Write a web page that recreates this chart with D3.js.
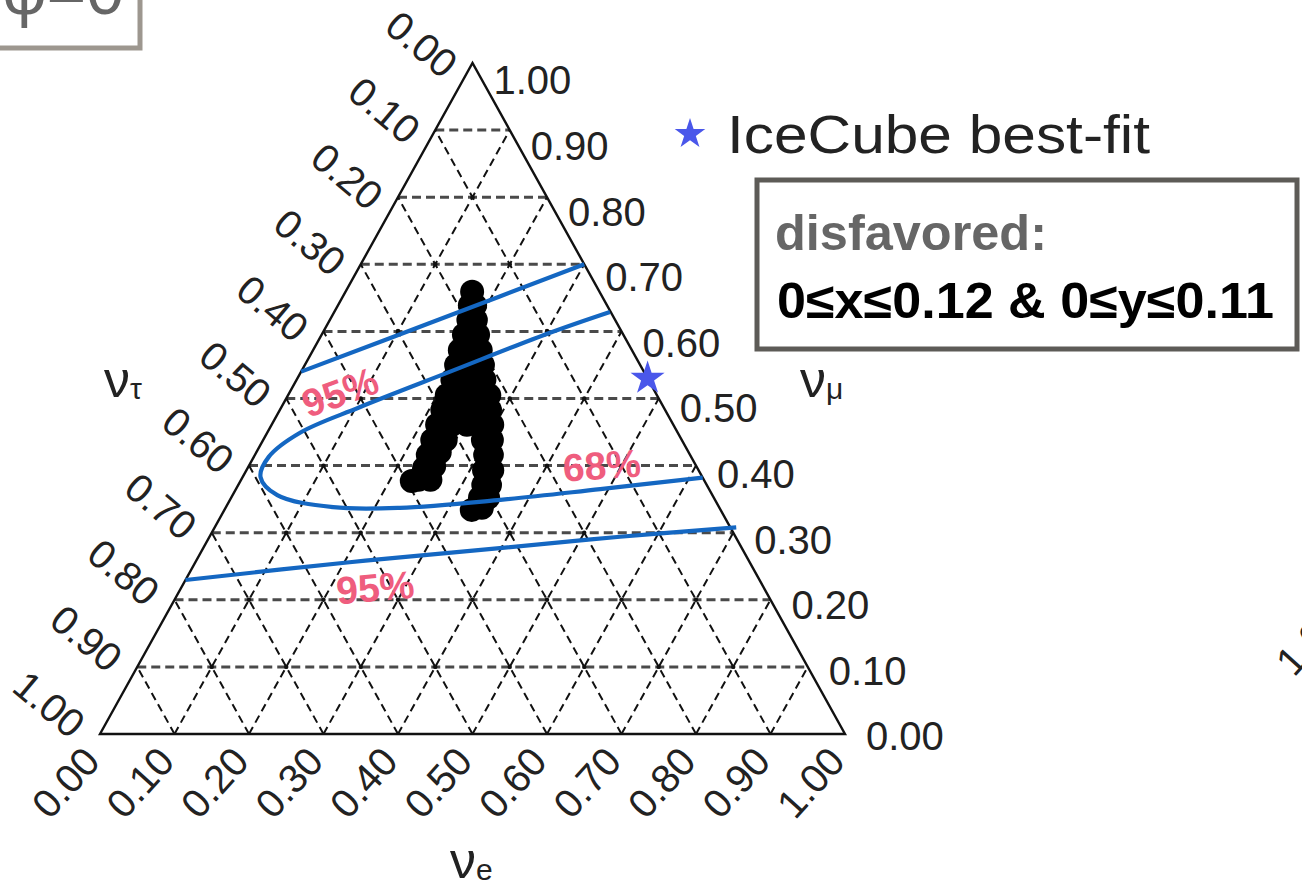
<!DOCTYPE html>
<html>
<head>
<meta charset="utf-8">
<script src="https://cdn.jsdelivr.net/npm/d3@7"></script>
<style>
  body { margin: 0; background: #fff; }
  svg { display: block; }
  text { font-family: "Liberation Sans", Arial, sans-serif; }
</style>
</head>
<body>
<script>
// ternary coordinates are [nu_e fraction, nu_mu fraction]; nu_tau = 1 - both
var svgWidth = 1302;
var svgHeight = 888;

var tickValues = [0, 0.1, 0.2, 0.3, 0.4, 0.5, 0.6, 0.7, 0.8, 0.9, 1.0];
var tickLabels = ["0.00", "0.10", "0.20", "0.30", "0.40", "0.50", "0.60", "0.70", "0.80", "0.90", "1.00"];

// 95% contour, upper line
var contour95Upper = [[0.0, 0.54], [0.147, 0.618], [0.30, 0.70]];
// 68% contour (the bent curve)
var contour68 = [[0.370, 0.629], [0.305, 0.598], [0.200, 0.540], [0.105, 0.487], [0.044, 0.449],
  [0.020, 0.413], [0.024, 0.383], [0.060, 0.356], [0.144, 0.338], [0.234, 0.337],
  [0.363, 0.349], [0.489, 0.365], [0.618, 0.382]];
// 95% contour, lower line
var contour95Lower = [[0.0, 0.2295], [0.207, 0.256], [0.398, 0.277], [0.551, 0.294], [0.70, 0.308]];

// scatter of model points (black blob)
var modelPoints = [
  [0.170, 0.659], [0.177, 0.639], [0.184, 0.639], [0.186, 0.617], [0.196, 0.617],
  [0.191, 0.595], [0.210, 0.595], [0.197, 0.572], [0.210, 0.572], [0.225, 0.572],
  [0.203, 0.550], [0.219, 0.550], [0.239, 0.550], [0.209, 0.528], [0.228, 0.528],
  [0.252, 0.528], [0.213, 0.505], [0.233, 0.505], [0.253, 0.505], [0.270, 0.505],
  [0.218, 0.483], [0.236, 0.483], [0.258, 0.483], [0.282, 0.483], [0.222, 0.461],
  [0.242, 0.461], [0.262, 0.461], [0.284, 0.461], [0.296, 0.461], [0.227, 0.438],
  [0.245, 0.438], [0.295, 0.438], [0.307, 0.438],
  [0.232, 0.416], [0.246, 0.420], [0.237, 0.396], [0.249, 0.399], [0.238, 0.379],
  [0.254, 0.379], [0.230, 0.377],
  [0.309, 0.416], [0.318, 0.416], [0.319, 0.393], [0.330, 0.393], [0.329, 0.371],
  [0.338, 0.371], [0.334, 0.352], [0.345, 0.352], [0.332, 0.334], [0.344, 0.337]
];

var bestFit = [0.47, 0.53];

var contourLabels = [
  { text: "95%", pos: [0.067, 0.51], angle: -20 },
  { text: "68%", pos: [0.473, 0.401], angle: -4 },
  { text: "95%", pos: [0.260, 0.219], angle: -5 }
];

var svg = d3.select("body")
  .append("svg")
  .attr("width", svgWidth)
  .attr("height", svgHeight);

var xScale = d3.scaleLinear().domain([0, 1]).range([100, 845]);
var yScale = d3.scaleLinear().domain([0, 1]).range([734, 63]);

function pt(fe, fmu) {
  return [xScale(fe + fmu / 2), yScale(fmu)];
}

// phi box, cut off at the top-left
svg.append("rect")
  .attr("x", -10).attr("y", -10)
  .attr("width", 150).attr("height", 58)
  .attr("fill", "#fff")
  .attr("stroke", "#9d978f")
  .attr("stroke-width", 5);
svg.append("text")
  .attr("x", 124).attr("y", 14)
  .attr("text-anchor", "end")
  .attr("font-size", 68)
  .attr("fill", "#666")
  .text("φ=0");

var grid = svg.append("g");
var inner = tickValues.slice(1, 10);

// horizontal lines: constant nu_mu
grid.selectAll(".hline")
  .data(inner)
  .enter()
  .append("line")
  .attr("x1", d => pt(0, d)[0]).attr("y1", d => pt(0, d)[1])
  .attr("x2", d => pt(1 - d, d)[0]).attr("y2", d => pt(1 - d, d)[1])
  .attr("stroke", "#4a4a4a")
  .attr("stroke-width", 3)
  .attr("stroke-dasharray", "9,5");

// constant nu_e
grid.selectAll(".eline")
  .data(inner)
  .enter()
  .append("line")
  .attr("x1", d => pt(d, 0)[0]).attr("y1", d => pt(d, 0)[1])
  .attr("x2", d => pt(d, 1 - d)[0]).attr("y2", d => pt(d, 1 - d)[1])
  .attr("stroke", "#111")
  .attr("stroke-width", 2)
  .attr("stroke-dasharray", "8,5");

// constant nu_tau
grid.selectAll(".tline")
  .data(inner)
  .enter()
  .append("line")
  .attr("x1", d => pt(1 - d, 0)[0]).attr("y1", d => pt(1 - d, 0)[1])
  .attr("x2", d => pt(0, 1 - d)[0]).attr("y2", d => pt(0, 1 - d)[1])
  .attr("stroke", "#111")
  .attr("stroke-width", 2)
  .attr("stroke-dasharray", "8,5");

// dots on the lattice points
var lattice = [];
inner.forEach(function(a) {
  inner.forEach(function(b) {
    if (a + b < 0.999) lattice.push([a, b]);
  });
});
grid.selectAll(".dot")
  .data(lattice)
  .enter()
  .append("circle")
  .attr("cx", d => pt(d[0], d[1])[0])
  .attr("cy", d => pt(d[0], d[1])[1])
  .attr("r", 2.2)
  .attr("fill", "#111");

// triangle outline
svg.append("path")
  .attr("d", d3.line()([pt(0, 0), pt(1, 0), pt(0, 1)]) + "Z")
  .attr("fill", "none")
  .attr("stroke", "#111")
  .attr("stroke-width", 2.4);

// model points
svg.append("g").selectAll("circle")
  .data(modelPoints)
  .enter()
  .append("circle")
  .attr("cx", d => pt(d[0], d[1])[0])
  .attr("cy", d => pt(d[0], d[1])[1])
  .attr("r", 12)
  .attr("fill", "#000");

// contours
var drawLine = d3.line()
  .x(d => pt(d[0], d[1])[0])
  .y(d => pt(d[0], d[1])[1])
  .curve(d3.curveCatmullRom);

[contour95Upper, contour68, contour95Lower].forEach(function(c) {
  svg.append("path")
    .attr("d", drawLine(c))
    .attr("fill", "none")
    .attr("stroke", "#1467c2")
    .attr("stroke-width", 4.2);
});

svg.selectAll(".clabel")
  .data(contourLabels)
  .enter()
  .append("text")
  .attr("transform", d => `translate(${pt(d.pos[0], d.pos[1])[0]},${pt(d.pos[0], d.pos[1])[1]}) rotate(${d.angle})`)
  .attr("text-anchor", "middle")
  .attr("dy", "0.36em")
  .attr("font-size", 39)
  .attr("font-weight", "bold")
  .attr("fill", "#ef5d7e")
  .text(d => d.text);

// best-fit star
var star = d3.symbol().type(d3.symbolStar);
svg.append("path")
  .attr("d", star.size(360)())
  .attr("transform", `translate(${pt(bestFit[0], bestFit[1])[0]},${pt(bestFit[0], bestFit[1])[1]})`)
  .attr("fill", "#4a57ea");

// tick labels
var labelGroup = svg.append("g").attr("fill", "#222").attr("font-size", 40);

// nu_mu on the right edge
labelGroup.selectAll(".rlab")
  .data(tickValues)
  .enter()
  .append("text")
  .attr("x", d => pt(1 - d, d)[0] + 21)
  .attr("y", d => pt(1 - d, d)[1] + 2 + 15 * d)
  .attr("dy", "0.36em")
  .text((d, i) => tickLabels[i]);

// nu_tau on the left edge
labelGroup.selectAll(".llab")
  .data(tickValues)
  .enter()
  .append("text")
  .attr("transform", d => {
    var p = pt(0, 1 - d);
    return `translate(${p[0] - 30},${p[1] + 17 - 11 * d}) rotate(40)`;
  })
  .attr("text-anchor", "end")
  .text((d, i) => tickLabels[i]);

// nu_e on the bottom edge
labelGroup.selectAll(".blab")
  .data(tickValues)
  .enter()
  .append("text")
  .attr("transform", d => {
    var p = pt(d, 0);
    return `translate(${p[0] + 2},${p[1] + 29}) rotate(-48)`;
  })
  .attr("text-anchor", "end")
  .text((d, i) => tickLabels[i]);

// cut-off label of the neighbouring panel
labelGroup.append("text")
  .attr("transform", "translate(1294,678) rotate(-48)")
  .text("1.00");

// axis titles
function axisTitle(x, y, sub) {
  var t = svg.append("text")
    .attr("x", x).attr("y", y)
    .attr("font-size", 52)
    .attr("fill", "#222");
  t.append("tspan").text("ν");
  t.append("tspan").attr("font-size", 30).attr("dy", 2).text(sub);
}
axisTitle(104, 397, "τ");
axisTitle(800, 397, "μ");
axisTitle(450, 878, "e");

// legend
svg.append("path")
  .attr("d", star.size(290)())
  .attr("transform", "translate(690,134)")
  .attr("fill", "#4a57ea");
svg.append("text")
  .attr("x", 727).attr("y", 153)
  .attr("font-size", 53)
  .attr("fill", "#222")
  .attr("textLength", 423)
  .attr("lengthAdjust", "spacingAndGlyphs")
  .text("IceCube best-fit");

// disfavored box
svg.append("rect")
  .attr("x", 757).attr("y", 180)
  .attr("width", 540).attr("height", 169)
  .attr("fill", "#fff")
  .attr("stroke", "#5d5b57")
  .attr("stroke-width", 5);
svg.append("text")
  .attr("x", 775).attr("y", 250)
  .attr("font-family", "Lato, 'Open Sans', sans-serif")
  .attr("font-weight", "bold")
  .attr("font-size", 50)
  .attr("fill", "#666")
  .attr("textLength", 272)
  .attr("lengthAdjust", "spacingAndGlyphs")
  .text("disfavored:");
svg.append("text")
  .attr("x", 777).attr("y", 318)
  .attr("font-weight", "bold")
  .attr("font-size", 50)
  .attr("fill", "#000")
  .attr("textLength", 497)
  .attr("lengthAdjust", "spacingAndGlyphs")
  .text("0≤x≤0.12 & 0≤y≤0.11");
</script>
</body>
</html>
